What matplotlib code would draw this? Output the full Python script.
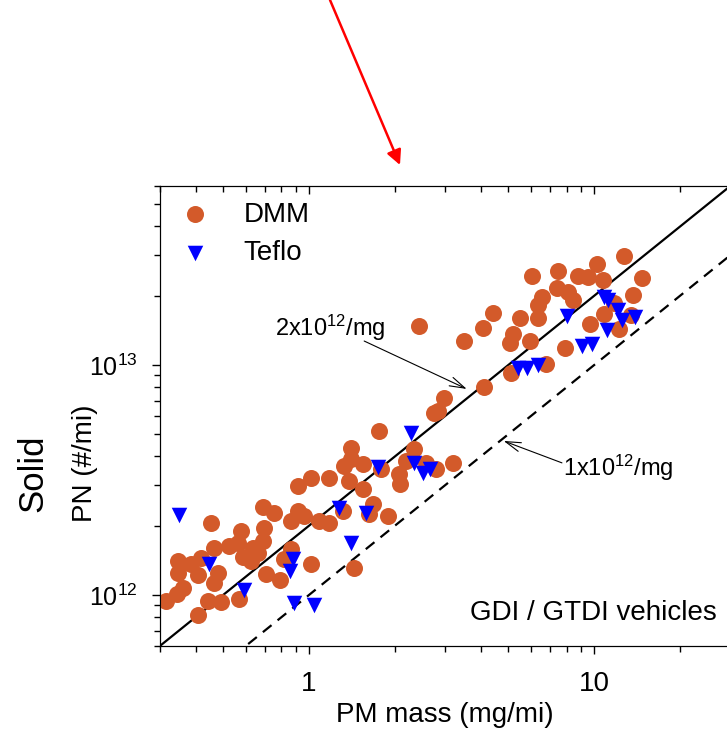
import numpy as np
import matplotlib
matplotlib.use("Agg")
import matplotlib.pyplot as plt
from matplotlib.ticker import FixedLocator, FixedFormatter

plt.rcParams['font.family'] = ['Liberation Sans', 'DejaVu Sans']
plt.rcParams['mathtext.fontset'] = 'custom'
plt.rcParams['mathtext.rm'] = 'Liberation Sans'
plt.rcParams['mathtext.it'] = 'Liberation Sans:italic'
plt.rcParams['mathtext.bf'] = 'Liberation Sans:bold'

# DMM filter: PM mass (mg/mi) vs solid PN (units of 1e12 #/mi)
dmm_pm = [0.316, 0.343, 0.362, 0.348, 0.387, 0.348, 0.409, 0.466, 0.481, 0.409,
          0.443, 0.492, 0.569, 0.419, 0.466, 0.525, 0.565, 0.578, 0.588, 0.627,
          0.663, 0.637, 0.696, 0.691, 0.708, 0.792, 0.865, 0.818, 0.454, 0.691,
          0.755, 0.865, 0.915, 0.961, 0.915, 1.016, 1.175, 1.084, 1.175, 1.315,
          1.38, 1.545, 1.40, 1.40, 1.325, 1.545, 1.757, 1.785, 1.674, 1.889,
          1.62, 2.06, 2.08, 2.33, 2.18, 2.57, 2.78, 3.19, 2.74, 2.97,
          2.83, 1.016, 1.437, 2.42, 3.48, 4.09, 4.06, 4.43, 5.09, 5.17,
          5.05, 5.51, 5.97, 6.37, 6.37, 6.53, 6.07, 6.79, 7.48, 7.42,
          8.11, 8.45, 8.79, 9.53, 10.2, 10.7, 12.7, 14.7, 13.7, 11.7,
          10.8, 9.68, 13.4, 12.2, 7.92]
dmm_pn = [0.94, 1.01, 1.07, 1.41, 1.36, 1.25, 1.22, 1.13, 1.25, 0.82,
          0.94, 0.93, 0.96, 1.45, 1.60, 1.63, 1.68, 1.90, 1.46, 1.41,
          1.52, 1.60, 1.96, 1.72, 1.23, 1.16, 1.58, 1.43, 2.06, 2.41,
          2.27, 2.10, 2.32, 2.21, 2.98, 3.23, 3.23, 2.10, 2.06, 2.32,
          3.13, 2.89, 4.36, 3.90, 3.64, 3.71, 5.17, 3.53, 2.49, 2.21,
          2.25, 3.36, 3.04, 4.31, 3.83, 3.75, 3.53, 3.75, 6.18, 7.19,
          6.31, 1.36, 1.31, 14.8, 12.7, 8.02, 14.5, 16.8, 9.23, 13.6,
          12.5, 16.0, 12.7, 16.0, 18.2, 19.8, 24.4, 10.1, 25.6, 21.6,
          20.8, 19.2, 24.4, 24.1, 27.5, 23.4, 29.8, 23.9, 20.2, 18.6,
          16.7, 15.1, 16.5, 14.3, 11.9]

# Teflo filter
teflo_pm = [0.351, 0.447, 0.593, 0.879, 0.858, 0.886, 1.04, 1.40, 1.273, 1.582,
            1.743, 2.27, 2.33, 2.50, 2.65, 5.42, 5.83, 6.37, 8.05, 9.08,
            9.84, 10.8, 11.2, 12.1, 12.5, 13.9, 11.1]
teflo_pn = [2.23, 1.36, 1.05, 1.43, 1.27, 0.92, 0.90, 1.68, 2.39, 2.27,
            3.60, 5.06, 3.75, 3.39, 3.53, 9.70, 9.70, 10.0, 16.3, 12.1,
            12.3, 19.8, 19.2, 17.3, 15.7, 16.2, 14.2]

ref_slopes = [2e12, 1e12]   # particles per mg
ref_x = [0.3, 30]
x_major = [1, 10]
x_major_labels = ['1', '10']

dmm_pn = np.array(dmm_pn) * 1e12
teflo_pn = np.array(teflo_pn) * 1e12

fig = plt.figure(figsize=(7.27, 7.34), dpi=100)
ax = fig.add_axes([0.220, 0.120, 0.7847, 0.6267])

ax.scatter(dmm_pm, dmm_pn, s=150, c='#D35A2A', marker='o', linewidths=0,
           label='DMM', zorder=3)
ax.scatter(teflo_pm, teflo_pn, s=125, c='#0000FF', marker='v', linewidths=0,
           label='Teflo', zorder=4)

xs = np.array(ref_x)
ax.plot(xs, ref_slopes[0] * xs, color='black', lw=1.6, zorder=2)
ax.plot(xs, ref_slopes[1] * xs, color='black', lw=1.6, ls=(0, (5, 3.5)), zorder=2)

ax.set_xscale('log')
ax.set_yscale('log')
ax.set_xlim(0.3, 30)
ax.set_ylim(6e11, 6e13)
ax.xaxis.set_major_locator(FixedLocator(x_major))
ax.xaxis.set_major_formatter(FixedFormatter(x_major_labels))

ax.spines['right'].set_visible(False)
ax.tick_params(axis='both', which='both', direction='out', width=1)
ax.tick_params(axis='both', which='major', length=6)
ax.tick_params(axis='both', which='minor', length=4)
ax.tick_params(axis='x', labelsize=20, pad=12)
ax.tick_params(axis='y', labelsize=18, pad=10)

# ticks pointing inward along the top
top = ax.twiny()
top.set_xscale('log')
top.set_xlim(ax.get_xlim())
top.tick_params(axis='x', which='both', direction='in', labeltop=False, width=1)
top.tick_params(axis='x', which='major', length=6)
top.tick_params(axis='x', which='minor', length=4)
top.spines['right'].set_visible(False)

ax.set_xlabel('PM mass (mg/mi)', fontsize=20, labelpad=4)
ax.set_ylabel('PN (#/mi)', fontsize=20, va='center')
ax.yaxis.set_label_coords(-0.1315, 0.398)
fig.text(33 / 727, 1 - 473 / 734, 'Solid', fontsize=25, rotation=90,
         ha='center', va='center')

ax.legend(loc='upper left', bbox_to_anchor=(0, 0.99), borderaxespad=0,
          frameon=False, fontsize=20, handlelength=1.7, handletextpad=0.9,
          labelspacing=0.45, scatterpoints=1)

ax.text(1.19, 14.5e12, '2x10$^{12}$/mg', fontsize=17, ha='center', va='center')
ax.annotate('', xy=(3.57, 7.86e12), xytext=(1.56, 12.7e12),
            arrowprops=dict(arrowstyle='->,head_length=1.0,head_width=0.3',
                            lw=0.8, color='black', mutation_scale=11,
                            shrinkA=0, shrinkB=0))
ax.text(7.79, 3.56e12, '1x10$^{12}$/mg', fontsize=17, ha='left', va='center')
ax.annotate('', xy=(4.81, 4.67e12), xytext=(7.7, 3.75e12),
            arrowprops=dict(arrowstyle='->,head_length=1.0,head_width=0.3',
                            lw=0.8, color='black', mutation_scale=11,
                            shrinkA=0, shrinkB=0))

ax.text(0.9765, 0.072, 'GDI / GTDI vehicles', transform=ax.transAxes,
        fontsize=20, ha='right', va='center')

# red pointer above the plot
ax.annotate('', xy=(400 / 727, 1 - 165 / 734), xycoords='figure fraction',
            xytext=(330 / 727, 1.0), textcoords='figure fraction',
            arrowprops=dict(arrowstyle='-|>', color='red', lw=1.8,
                            mutation_scale=22, shrinkA=0, shrinkB=0),
            annotation_clip=False)

fig.savefig('out.png', dpi=100)
